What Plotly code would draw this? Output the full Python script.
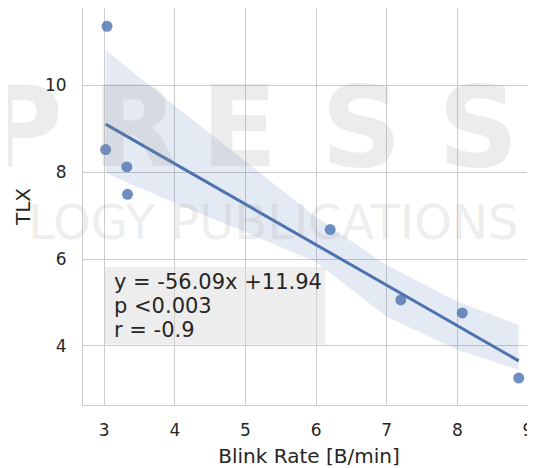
import numpy as np
import plotly.graph_objects as go

# ---- data ----
blink_rate = [3.04, 3.02, 3.32, 3.33, 6.20, 7.20, 8.07, 8.87]
tlx = [11.36, 8.52, 8.12, 7.49, 6.68, 5.06, 4.76, 3.26]
# confidence band bounds
band_x = [3.02, 4.0, 5.0, 6.0, 7.0, 8.0, 8.87]
band_upper = [10.81, 9.53, 8.25, 6.96, 5.86, 5.02, 4.48]
band_lower = [7.98, 7.29, 6.62, 5.93, 4.67, 3.91, 3.45]
x_ticks = [3, 4, 5, 6, 7, 8, 9]
y_ticks = [4, 6, 8, 10]
stats_lines = ["y = -56.09x +11.94", "p <0.003", "r = -0.9"]
x_title = "Blink Rate [B/min]"
y_title = "TLX"
watermark_big = ["P", "R", "E", "S", "S"]
watermark_small = "LOGY PUBLICATIONS"

# ---- regression fit ----
x = np.array(blink_rate)
y = np.array(tlx)
slope, intercept = np.polyfit(x, y, 1)
grid = np.linspace(x.min(), x.max(), 100)
fit = intercept + slope * grid

blue = "#4c72b0"
txt = "#262626"
fig = go.Figure()
fig.add_trace(go.Scatter(
    x=band_x + band_x[::-1],
    y=band_upper + band_lower[::-1],
    mode="lines", fill="toself", fillcolor="rgba(76,114,176,0.15)",
    line=dict(width=0), hoverinfo="skip", showlegend=False))
fig.add_trace(go.Scatter(
    x=blink_rate, y=tlx, mode="markers",
    marker=dict(color=blue, size=11, opacity=0.8, line=dict(width=0)),
    showlegend=False))
fig.add_trace(go.Scatter(
    x=grid, y=fit, mode="lines",
    line=dict(color=blue, width=3), showlegend=False))

# stats box
fig.add_shape(type="rect", xref="x", yref="y", x0=3.01, x1=6.13, y0=4.03, y1=5.82,
              fillcolor="rgba(215,215,215,0.45)", line=dict(width=0), layer="above")
for line_text, ly in zip(stats_lines, [5.47, 4.92, 4.37]):
    fig.add_annotation(
        x=3.11, y=ly, xref="x", yref="y", xanchor="left", yanchor="middle",
        text=line_text, showarrow=False,
        font=dict(family="DejaVu Sans", size=21, color=txt))

# watermark (light overlay in the reference)
big_pos = [-0.135, 0.115, 0.347, 0.617, 0.874]
for ch, px in zip(watermark_big, big_pos):
    fig.add_annotation(
        x=px, y=0.70, xref="paper", yref="paper", xanchor="center", yanchor="middle",
        text="<b>" + ch + "</b>", showarrow=False,
        font=dict(family="DejaVu Sans", size=112, color="rgba(150,150,150,0.18)"))
fig.add_annotation(
    x=0.42, y=0.46, xref="paper", yref="paper", xanchor="center", yanchor="middle",
    text=watermark_small, showarrow=False,
    font=dict(family="DejaVu Sans", size=48, color="rgba(150,150,150,0.18)"))

axis_common = dict(
    showgrid=True, gridcolor="#cccccc", gridwidth=1,
    showline=True, linecolor="#cccccc", linewidth=1, mirror=True,
    zeroline=False, ticks="", automargin=False, ticklabeloverflow="allow",
    tickfont=dict(family="DejaVu Sans", size=17, color=txt),
)
fig.update_xaxes(range=[2.70, 9.10], tickvals=x_ticks, ticklabelstandoff=10,
                 title=dict(text=x_title, font=dict(family="DejaVu Sans", size=20, color=txt),
                            standoff=12),
                 **axis_common)
fig.update_yaxes(range=[2.64, 11.78], tickvals=y_ticks, ticklabelstandoff=12,
                 title=dict(text=y_title, font=dict(family="DejaVu Sans", size=20, color=txt),
                            standoff=8),
                 **axis_common)
# the page adds an 8px body margin, so the figure is sized to fit the window
fig.update_layout(
    width=527, height=460,
    margin=dict(l=75, r=0, t=0, b=63),
    plot_bgcolor="white", paper_bgcolor="white",
    font=dict(family="DejaVu Sans", color=txt),
)
fig.write_html("out.html")
